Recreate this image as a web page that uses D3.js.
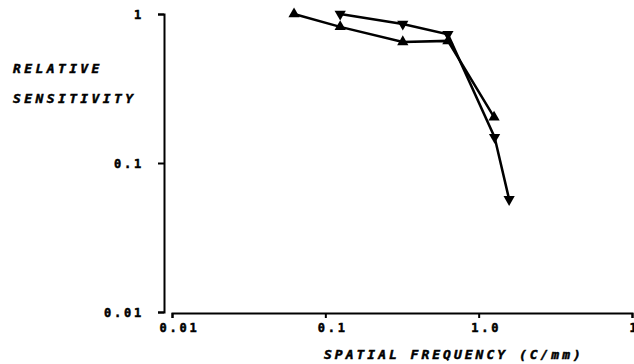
<!DOCTYPE html>
<html>
<head>
<meta charset="utf-8">
<script src="https://cdn.jsdelivr.net/npm/d3@7"></script>
<style>
  body { margin: 0; background: #fff; }
  svg { display: block; }
  .tick text, .lbl { font-family: "DejaVu Sans Mono", monospace; font-weight: bold; fill: #000; stroke: #000; stroke-width: 0.5px; }
  .tick text { letter-spacing: 2.8px; }
  .title { font-style: italic; letter-spacing: 3.4px; }
</style>
</head>
<body>
<div id="chart"></div>
<script>
// spatial frequency (c/mm) and relative sensitivity
const freqA = [0.0625, 0.125, 0.32, 0.63, 1.26];
const sensA = [1.0, 0.82, 0.65, 0.66, 0.203];
const freqB = [0.125, 0.32, 0.63, 1.27, 1.58];
const sensB = [1.0, 0.857, 0.73, 0.149, 0.057];

const xTicks = [0.01, 0.1, 1, 10];
const xTickLabels = ["0.01", "0.1", "1.0", "10"];
const yTicks = [0.01, 0.1, 1];
const yTickLabels = ["0.01", "0.1", "1"];

const width = 634, height = 364;

const svg = d3.select("#chart").append("svg")
  .attr("width", width)
  .attr("height", height);

const x = d3.scaleLog().domain([0.01, 10]).range([172, 632]);
const y = d3.scaleLog().domain([0.01, 1]).range([312, 14]);

// y axis
const yAxis = svg.append("g")
  .attr("transform", "translate(164,0)")
  .call(d3.axisLeft(y).tickValues(yTicks)
    .tickFormat((d, i) => yTickLabels[i])
    .tickSize(6).tickPadding(14));
yAxis.select(".domain").attr("stroke-width", 2);
yAxis.selectAll(".tick line").attr("stroke-width", 2);
yAxis.selectAll(".tick text").attr("font-size", 12).attr("dy", "0.35em");

// x axis
const xAxis = svg.append("g")
  .attr("transform", "translate(0,313)")
  .call(d3.axisBottom(x).tickValues(xTicks)
    .tickFormat((d, i) => xTickLabels[i])
    .tickSize(5).tickPadding(5));
xAxis.select(".domain").attr("stroke-width", 2);
xAxis.selectAll(".tick line").attr("stroke-width", 2);
xAxis.selectAll(".tick text").attr("font-size", 12).attr("dx", "7px");

// axis titles
svg.append("text").attr("class", "lbl title")
  .attr("x", 13).attr("y", 73).attr("font-size", 13)
  .text("RELATIVE");
svg.append("text").attr("class", "lbl title")
  .attr("x", 13).attr("y", 103).attr("font-size", 13)
  .text("SENSITIVITY");
svg.append("text").attr("class", "lbl title")
  .attr("x", 324).attr("y", 359).attr("font-size", 13)
  .style("letter-spacing", "3px")
  .text("SPATIAL FREQUENCY (C/mm)");

const line = d3.line()
  .x(d => x(d[0]))
  .y(d => y(d[1]));

const seriesA = freqA.map((f, i) => [f, sensA[i]]);
const seriesB = freqB.map((f, i) => [f, sensB[i]]);

function drawSeries(data, rot) {
  svg.append("path")
    .datum(data)
    .attr("fill", "none")
    .attr("stroke", "#000")
    .attr("stroke-width", 2.5)
    .attr("d", line);
  svg.selectAll(null)
    .data(data)
    .enter()
    .append("path")
    .attr("d", d3.symbol().type(d3.symbolTriangle).size(55))
    .attr("transform", d => "translate(" + x(d[0]) + "," + y(d[1]) + ") rotate(" + rot + ")")
    .attr("fill", "#000");
}

drawSeries(seriesA, 0);
drawSeries(seriesB, 180);
</script>
</body>
</html>
